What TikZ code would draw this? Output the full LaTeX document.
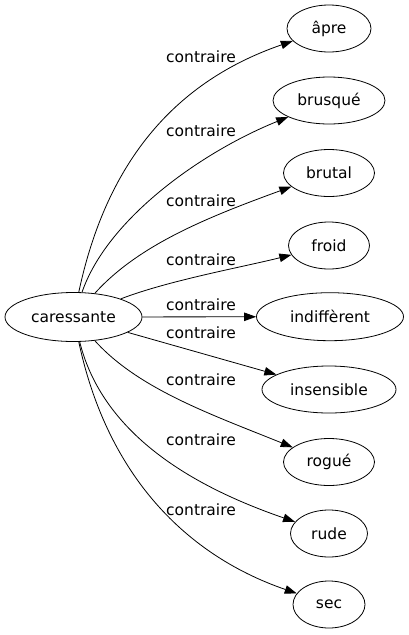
\documentclass[tikz,border=0pt]{standalone}
\usepackage{fontspec}
\setmainfont{DejaVu Sans}
\usetikzlibrary{shapes.geometric,arrows.meta}
\tikzset{
    >={Triangle[length=12pt,width=8.5pt]}, % filled arrow heads
    mot/.style={ellipse, draw, line width=0.8pt, inner sep=0pt,
        minimum height=47pt, font=\fontsize{15.5}{18}\selectfont}, % word nodes
    lbl/.style={inner sep=0pt, font=\fontsize{15.5}{18}\selectfont}, % edge labels
}
\begin{document}
\begin{tikzpicture}[x=1pt,y=1pt]
  \useasboundingbox (0,0) rectangle (408,-635);

  % source word
  \node[mot, minimum width=137pt, minimum height=49pt] (car) at (73.5,-317) {caressante};

  % its contraires
  \node[mot, minimum width=84pt]  (apre)    at (329,-28.5)  {âpre};
  \node[mot, minimum width=112pt] (brusque) at (329,-100.5) {brusqué};
  \node[mot, minimum width=91pt]  (brutal)  at (329,-173)   {brutal};
  \node[mot, minimum width=81pt]  (froid)   at (329,-245.5) {froid};
  \node[mot, minimum width=147pt, minimum height=48pt] (indif) at (330,-316.7) {indiffèrent};
  \node[mot, minimum width=134pt] (insens)  at (329,-389.5) {insensible};
  \node[mot, minimum width=91pt]  (rogue)   at (329,-462)   {rogué};
  \node[mot, minimum width=77pt]  (rude)    at (329,-533.5) {rude};
  \node[mot, minimum width=72pt]  (sec)     at (329,-604.5) {sec};

  % labels
  \node[lbl] (l_1) at (201,-57)  {contraire};
  \node[lbl] (l_2) at (201,-131) {contraire};
  \node[lbl] (l_3) at (201,-201) {contraire};
  \node[lbl] (l_4) at (201,-260) {contraire};
  \node[lbl] (l_5) at (201,-305) {contraire};
  \node[lbl] (l_6) at (201,-333) {contraire};
  \node[lbl] (l_7) at (201,-380) {contraire};
  \node[lbl] (l_8) at (201,-440) {contraire};
  \node[lbl] (l_9) at (201,-510) {contraire};

  \path[->, line width=0.8pt]
    (car) edge[out=78, in=199, out looseness=1.05, in looseness=0.95] (apre)
          edge[out=71, in=202, out looseness=0.73, in looseness=0.89] (brusque)
          edge[out=48, in=200, out looseness=0.74, in looseness=1.03] (brutal)
          edge[out=21, in=194, looseness=0.75]                        (froid)
          edge                                                        (indif)
          edge                                                        (insens)
          edge[out=-48, in=158, out looseness=0.74, in looseness=1.0] (rogue)
          edge[out=-76, in=161, out looseness=0.91, in looseness=0.91] (rude)
          edge[out=-78, in=161, out looseness=1.0, in looseness=0.95] (sec);
\end{tikzpicture}
\end{document}
